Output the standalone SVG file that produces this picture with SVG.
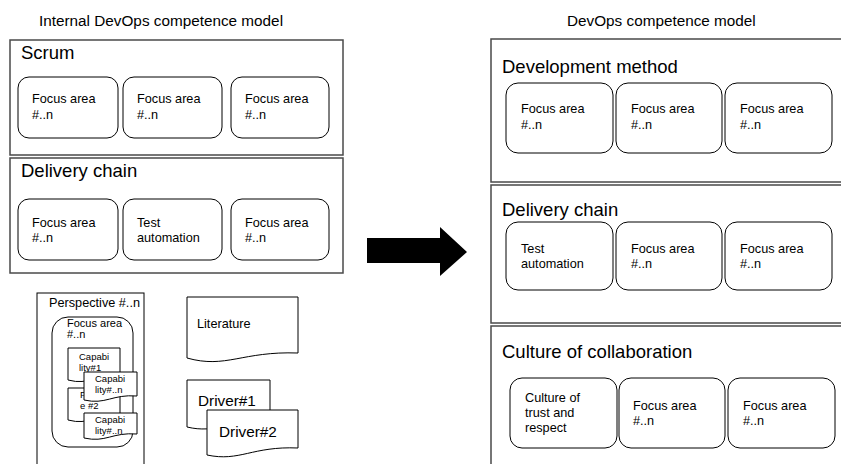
<svg xmlns="http://www.w3.org/2000/svg" width="841" height="464" viewBox="0 0 841 464">
<style>
text{font-family:"Liberation Sans",Arial,sans-serif;fill:#000}
.title{font-size:15.3px}
.sec{fill:#fff;stroke:#4a4a4a;stroke-width:1.5}
.head{font-size:18.5px}
.fa{fill:#fff;stroke:#000;stroke-width:1}
.t{font-size:12.7px}
.doc{fill:#fff;stroke:#000;stroke-width:1}
.sm{font-size:11px}
.xs{font-size:9.5px}
.drv{font-size:15.3px}
.arrow{fill:#000}
</style>
<text class="title" x="39" y="26">Internal DevOps competence model</text>
<text class="title" x="567" y="26">DevOps competence model</text>

<g id="scrum">
<rect class="sec" x="10" y="40" width="333" height="115"/>
<text class="head" x="21" y="59">Scrum</text>
<rect class="fa" x="18" y="77" width="100" height="61" rx="11"/>
<text class="t" x="32" y="103">Focus area</text><text class="t" x="32" y="119">#..n</text>
<rect class="fa" x="123" y="77" width="99" height="61" rx="11"/>
<text class="t" x="137" y="103">Focus area</text><text class="t" x="137" y="119">#..n</text>
<rect class="fa" x="231" y="77" width="98" height="61" rx="11"/>
<text class="t" x="245" y="103">Focus area</text><text class="t" x="245" y="119">#..n</text>
</g>

<g id="delivery-left">
<rect class="sec" x="10" y="158" width="333" height="115"/>
<text class="head" x="21" y="177">Delivery chain</text>
<rect class="fa" x="18" y="199" width="100" height="61" rx="11"/>
<text class="t" x="32" y="227">Focus area</text><text class="t" x="32" y="242">#..n</text>
<rect class="fa" x="123" y="199" width="99" height="61" rx="11"/>
<text class="t" x="137" y="227">Test</text><text class="t" x="137" y="242">automation</text>
<rect class="fa" x="231" y="199" width="98" height="61" rx="11"/>
<text class="t" x="245" y="227">Focus area</text><text class="t" x="245" y="242">#..n</text>
</g>

<g id="perspective">
<rect class="doc" x="37" y="293" width="107" height="180"/>
<text class="t" x="49" y="307">Perspective #..n</text>
<rect class="fa" x="52" y="317" width="81" height="130" rx="16"/>
<text class="sm" x="67" y="327">Focus area</text>
<text class="sm" x="67" y="338">#..n</text>
<g id="capability1">
<path class="doc" d="M68,348 H120 V375 C96,373 90,386 68,380 Z"/>
<text class="xs" x="79" y="360">Capabi</text><text class="xs" x="79" y="371">lity#1</text>
</g>
<g id="feature2">
<path class="doc" d="M68,388 H120 V415 C96,413 90,426 68,420 Z"/>
<text class="xs" x="80" y="398">F</text><text class="xs" x="80" y="409">e #2</text>
</g>
<g id="capability-n1">
<path class="doc" d="M84,372 H137 V396 C112,394 106,405 84,400 Z"/>
<text class="xs" x="95" y="382">Capabi</text><text class="xs" x="95" y="393">lity#..n</text>
</g>
<g id="capability-n2">
<path class="doc" d="M84,413 H137 V434 C112,432 106,443 84,438 Z"/>
<text class="xs" x="95" y="423">Capabi</text><text class="xs" x="95" y="434">lity#..n</text>
</g>
</g>

<g id="literature">
<path class="doc" d="M187,297 H298 V353 C242,351 226,369 187,358 Z"/>
<text class="t" x="197" y="328">Literature</text>
</g>
<g id="driver1">
<path class="doc" d="M187,380 H270 V422 C228,420 216,434 187,427 Z"/>
<text class="drv" x="198" y="406">Driver#1</text>
</g>
<g id="driver2">
<path class="doc" d="M207,410 H298 V448 C252,446 240,462 207,455 Z"/>
<text class="drv" x="219" y="437">Driver#2</text>
</g>

<g id="connectors">
<polygon class="arrow" points="367,238 440,238 440,227 467,252 440,276 440,263 367,263"/>
</g>

<g id="development-method">
<rect class="sec" x="491" y="39" width="355" height="143"/>
<text class="head" x="502" y="73">Development method</text>
<rect class="fa" x="506" y="83" width="107" height="70" rx="12"/>
<text class="t" x="521" y="113">Focus area</text><text class="t" x="521" y="129">#..n</text>
<rect class="fa" x="616" y="83" width="106" height="70" rx="12"/>
<text class="t" x="631" y="113">Focus area</text><text class="t" x="631" y="129">#..n</text>
<rect class="fa" x="725" y="83" width="107" height="70" rx="12"/>
<text class="t" x="740" y="113">Focus area</text><text class="t" x="740" y="129">#..n</text>
</g>

<g id="delivery-right">
<rect class="sec" x="491" y="185" width="355" height="138"/>
<text class="head" x="502" y="216">Delivery chain</text>
<rect class="fa" x="506" y="222" width="107" height="68" rx="12"/>
<text class="t" x="521" y="253">Test</text><text class="t" x="521" y="268">automation</text>
<rect class="fa" x="616" y="222" width="106" height="68" rx="12"/>
<text class="t" x="631" y="253">Focus area</text><text class="t" x="631" y="268">#..n</text>
<rect class="fa" x="725" y="222" width="107" height="68" rx="12"/>
<text class="t" x="740" y="253">Focus area</text><text class="t" x="740" y="268">#..n</text>
</g>

<g id="culture">
<rect class="sec" x="491" y="326" width="355" height="150"/>
<text class="head" x="502" y="358">Culture of collaboration</text>
<rect class="fa" x="510" y="378" width="107" height="70" rx="12"/>
<text class="t" x="525" y="402">Culture of</text><text class="t" x="525" y="417">trust and</text><text class="t" x="525" y="432">respect</text>
<rect class="fa" x="619" y="378" width="106" height="70" rx="12"/>
<text class="t" x="633" y="410">Focus area</text><text class="t" x="633" y="425">#..n</text>
<rect class="fa" x="728" y="378" width="107" height="70" rx="12"/>
<text class="t" x="743" y="410">Focus area</text><text class="t" x="743" y="425">#..n</text>
</g>
</svg>
